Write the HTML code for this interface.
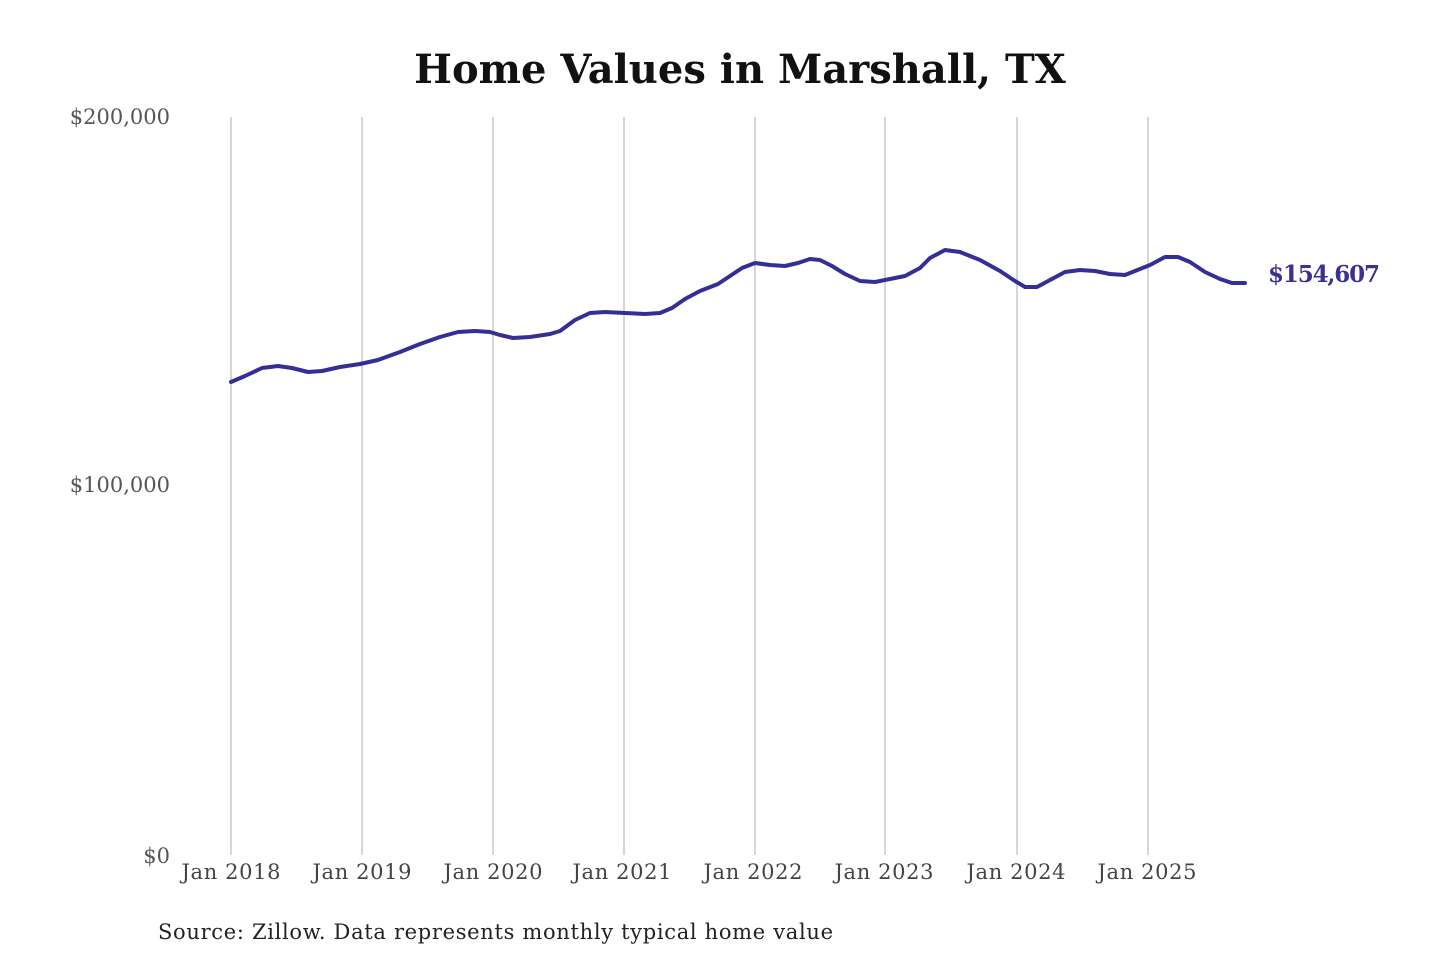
<!DOCTYPE html>
<html><head><meta charset="utf-8"><style>
html,body{margin:0;padding:0;background:#fff}
svg{display:block}
text{font-family:"DejaVu Serif","Liberation Serif",serif}
</style></head><body>
<svg width="1440" height="960" viewBox="0 0 1440 960" xmlns="http://www.w3.org/2000/svg">
<text x="740" y="83" text-anchor="middle" font-size="40" font-weight="bold" fill="#111">Home Values in Marshall, TX</text>
<g stroke="#c8c8c8" stroke-width="1.5">
<line x1="231" y1="117" x2="231" y2="855"/><line x1="362" y1="117" x2="362" y2="855"/>
<line x1="493" y1="117" x2="493" y2="855"/><line x1="624" y1="117" x2="624" y2="855"/>
<line x1="755" y1="117" x2="755" y2="855"/><line x1="885" y1="117" x2="885" y2="855"/>
<line x1="1017" y1="117" x2="1017" y2="855"/><line x1="1148" y1="117" x2="1148" y2="855"/>
</g>
<g font-size="21" fill="#555" text-anchor="end">
<text x="170" y="124">$200,000</text><text x="170" y="492">$100,000</text><text x="170" y="863">$0</text>
</g>
<g font-size="21" fill="#444" text-anchor="middle">
<text x="231" y="879" textLength="99">Jan 2018</text><text x="362" y="879" textLength="99">Jan 2019</text><text x="493" y="879" textLength="99">Jan 2020</text>
<text x="622" y="879" textLength="99">Jan 2021</text><text x="753" y="879" textLength="99">Jan 2022</text><text x="884" y="879" textLength="99">Jan 2023</text>
<text x="1016" y="879" textLength="99">Jan 2024</text><text x="1147" y="879" textLength="99">Jan 2025</text>
</g>
<polyline fill="none" stroke="#352e96" stroke-width="4" stroke-linejoin="round" stroke-linecap="round" points="231,382 245,376 262,368 278,366 292,368 308,372 322,371 340,367 360,364 378,360 400,352 420,344 440,337 458,332 475,331 490,332 500,335 513,338 530,337 550,334 560,331 575,320 590,313 605,312 625,313 645,314 660,313 672,308 685,299 700,291 718,284 730,276 742,268 755,263 770,265 785,266 798,263 810,259 820,260 832,266 845,274 860,281 875,282 890,279 905,276 920,268 930,258 945,250 960,252 980,260 1000,271 1015,281 1025,287 1037,287 1050,280 1065,272 1080,270 1095,271 1110,274 1125,275 1135,271 1150,265 1165,257 1178,257 1190,262 1205,272 1220,279 1232,283 1245,283"/>
<text x="1268" y="282" font-size="23" font-weight="bold" fill="#3a3192" textLength="112">$154,607</text>
<text x="158" y="939" font-size="21" fill="#222" textLength="675">Source: Zillow. Data represents monthly typical home value</text>
</svg>
</body></html>
